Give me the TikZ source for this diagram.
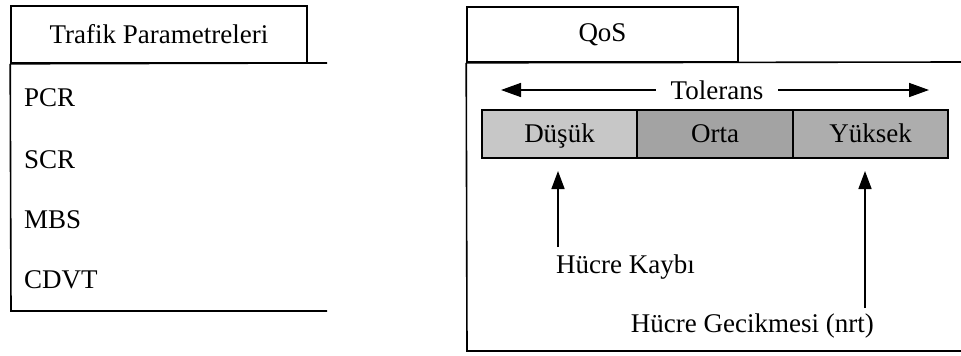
\documentclass[tikz,border=0pt]{standalone}
\usepackage{fontspec}
\setmainfont{Liberation Serif}
\usetikzlibrary{arrows.meta}
\begin{document}
\begin{tikzpicture}[x=1pt,y=-1pt,
  frame/.style={line width=1.6pt,black},
  lbl/.style={font=\fontsize{27}{30}\selectfont,inner sep=0pt},
  cell/.style={draw,line width=1.4pt,minimum height=48pt,inner sep=0pt,text height=18pt,text depth=1pt,font=\fontsize{27}{30}\selectfont},
  uparrow/.style={line width=1.6pt,-{Triangle[length=18pt,width=13pt]}},
  tolarrow/.style={line width=1.6pt,-{Triangle[length=20pt,width=14pt]}}]
\useasboundingbox (0,0) rectangle (961,356);
% left box
\node[frame,draw,minimum width=296pt,minimum height=57pt,inner sep=0pt,font=\fontsize{27}{30}\selectfont] (tp) at (159,34.5) {Trafik Parametreleri};
\coordinate (ltr) at (327,63);
\coordinate (lbl) at (11,311);
\coordinate (lbr) at (327,311);
\draw[frame] (tp.south west) -- (ltr);
\draw[frame] (tp.south west) -- (lbl) -- (lbr);
\node[lbl,anchor=west] (pcr) at (24,98) {PCR};
\node[lbl,anchor=west] (scr) at (24,160) {SCR};
\node[lbl,anchor=west] (mbs) at (24,220) {MBS};
\node[lbl,anchor=west] (cdvt) at (24,280) {CDVT};
% right box
\node[frame,draw,minimum width=271pt,minimum height=55pt,inner sep=0pt,font=\fontsize{27}{30}\selectfont] (qos) at (602.5,34.5) {QoS};
\coordinate (rtr) at (961,62);
\coordinate (rbl) at (467,351);
\coordinate (rbr) at (961,351);
\draw[frame] (qos.south west) -- (rtr);
\draw[frame] (qos.south west) -- (rbl) -- (rbr);
% tolerance
\node[lbl,inner xsep=15pt] (tol) at (717,90) {Tolerans};
\coordinate (tl) at (501,90);
\coordinate (tr) at (929,90);
\draw[tolarrow] (tol.west) -- (tl);
\draw[tolarrow] (tol.east) -- (tr);
% bar
\node[cell,fill=black!22,minimum width=155pt] (dus) at (559.5,134) {Düşük};
\node[cell,fill=black!36,minimum width=156pt] (orta) at (715,134) {Orta};
\node[cell,fill=black!32,minimum width=155pt] (yuk) at (870.5,134) {Yüksek};
% loss / delay
\node[lbl,anchor=base west] (hk) at (556,273) {Hücre Kaybı};
\node[lbl,anchor=base east] (hg) at (874,332) {Hücre Gecikmesi (nrt)};
\coordinate (a1s) at (558,247);
\coordinate (a1e) at (558,171);
\coordinate (a2s) at (865,308);
\coordinate (a2e) at (865,171);
\draw[uparrow] (a1s) -- (a1e);
\draw[uparrow] (a2s) -- (a2e);
\end{tikzpicture}
\end{document}
